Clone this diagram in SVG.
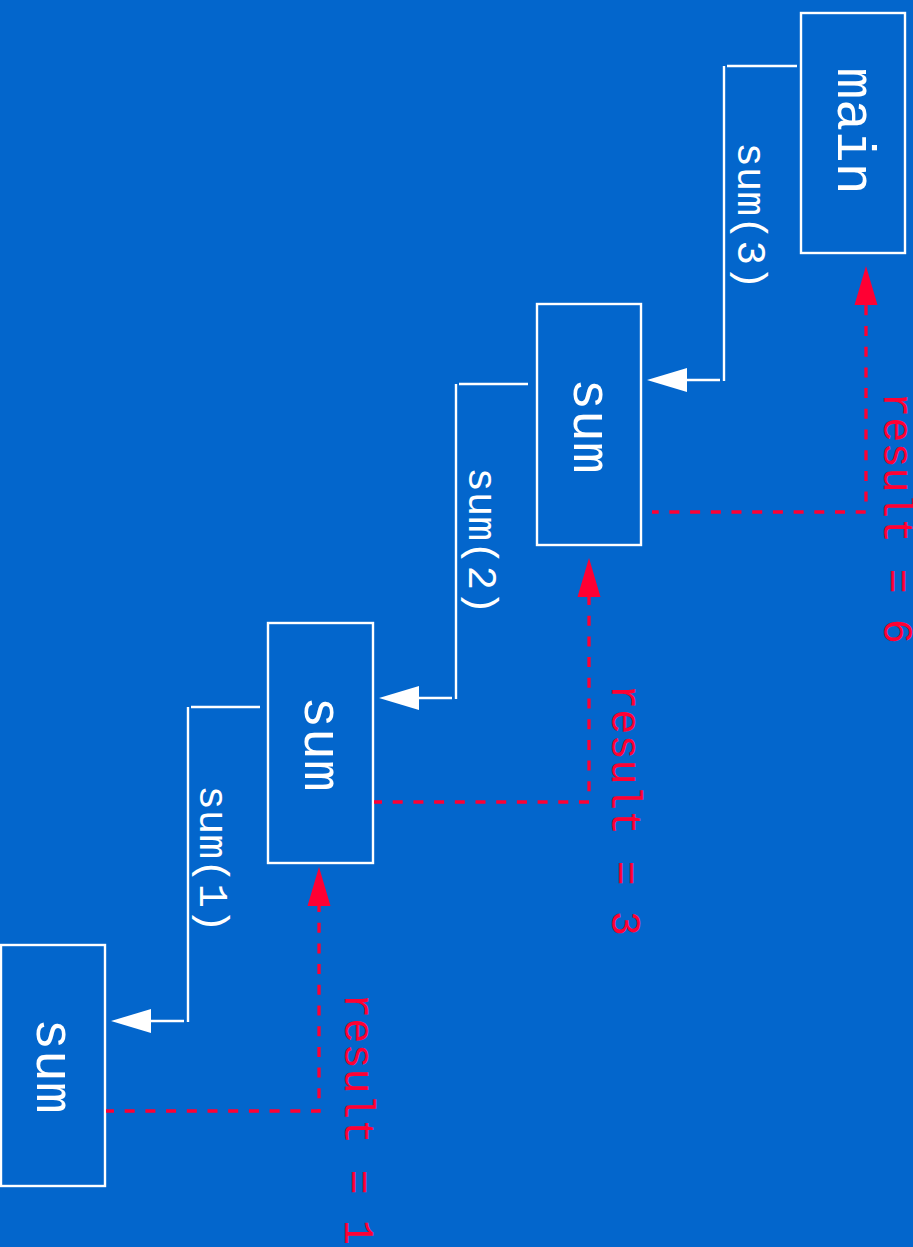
<svg xmlns="http://www.w3.org/2000/svg" width="913" height="1247" viewBox="0 0 913 1247">
  <defs>
    <style>
      .box { fill: none; stroke: #ffffff; stroke-width: 2.4; }
      .call { fill: none; stroke: #ffffff; stroke-width: 2.4; }
      .ret { fill: none; stroke: #ff0033; stroke-width: 3.3; stroke-dasharray: 10 10.7; }
      .callhead { fill: #ffffff; }
      .rethead { fill: #ff0033; }
      .name { font-family: "Liberation Mono", "Courier New", monospace; font-size: 53px; fill: #ffffff; text-anchor: middle; }
      .arg { font-family: "Liberation Mono", "Courier New", monospace; font-size: 41px; fill: #ffffff; text-anchor: middle; }
      .res { font-family: "Liberation Mono", "Courier New", monospace; font-size: 42px; fill: #ff0033; text-anchor: start; }
    </style>
  </defs>

  <rect x="0" y="0" width="913" height="1247" fill="#0366cc"/>

  <!-- call frames -->
  <g id="frame-main">
    <rect class="box" x="801" y="13" width="104" height="240"/>
    <text class="name" transform="translate(838,131) rotate(90)">main</text>
  </g>
  <g id="frame-sum3">
    <rect class="box" x="537" y="304" width="104" height="241"/>
    <text class="name" transform="translate(574,426) rotate(90)">sum</text>
  </g>
  <g id="frame-sum2">
    <rect class="box" x="268" y="623" width="105" height="240"/>
    <text class="name" transform="translate(305,744) rotate(90)">sum</text>
  </g>
  <g id="frame-sum1">
    <rect class="box" x="1" y="945" width="104" height="241"/>
    <text class="name" transform="translate(37,1066) rotate(90)">sum</text>
  </g>

  <g id="connectors">
    <!-- calls -->
    <line class="call" x1="797" y1="66" x2="727" y2="66"/>
    <line class="call" x1="724" y1="66" x2="724" y2="381"/>
    <line class="call" x1="720" y1="380" x2="686" y2="380"/>
    <polygon class="callhead" points="647,380 687,368 687,392"/>
    <text class="arg" transform="translate(738,216) rotate(90)">sum(3)</text>

    <line class="call" x1="528" y1="384" x2="459" y2="384"/>
    <line class="call" x1="456" y1="384" x2="456" y2="699"/>
    <line class="call" x1="452" y1="698" x2="418" y2="698"/>
    <polygon class="callhead" points="379,698 419,686 419,710"/>
    <text class="arg" transform="translate(469,541) rotate(90)">sum(2)</text>

    <line class="call" x1="260" y1="707" x2="191" y2="707"/>
    <line class="call" x1="188" y1="707" x2="188" y2="1022"/>
    <line class="call" x1="184" y1="1021" x2="150" y2="1021"/>
    <polygon class="callhead" points="111,1021 151,1009 151,1033"/>
    <text class="arg" transform="translate(200,859) rotate(90)">sum(1)</text>

    <!-- returns -->
    <path class="ret" d="M652,512 H866 V305" stroke-dashoffset="3.3"/>
    <polygon class="rethead" points="866,266 854.5,305 877.5,305"/>
    <text class="res" transform="translate(884,392) rotate(90)" font-size="40">result = 6</text>

    <path class="ret" d="M374,802 H589 V596" stroke-dashoffset="2"/>
    <polygon class="rethead" points="589,558 577.5,597 600.5,597"/>
    <text class="res" transform="translate(612,684) rotate(90)">result = 3</text>

    <path class="ret" d="M106,1111 H319 V906" stroke-dashoffset="2"/>
    <polygon class="rethead" points="319,867 307.5,906 330.5,906"/>
    <text class="res" transform="translate(345,993) rotate(90)">result = 1</text>
  </g>
</svg>
